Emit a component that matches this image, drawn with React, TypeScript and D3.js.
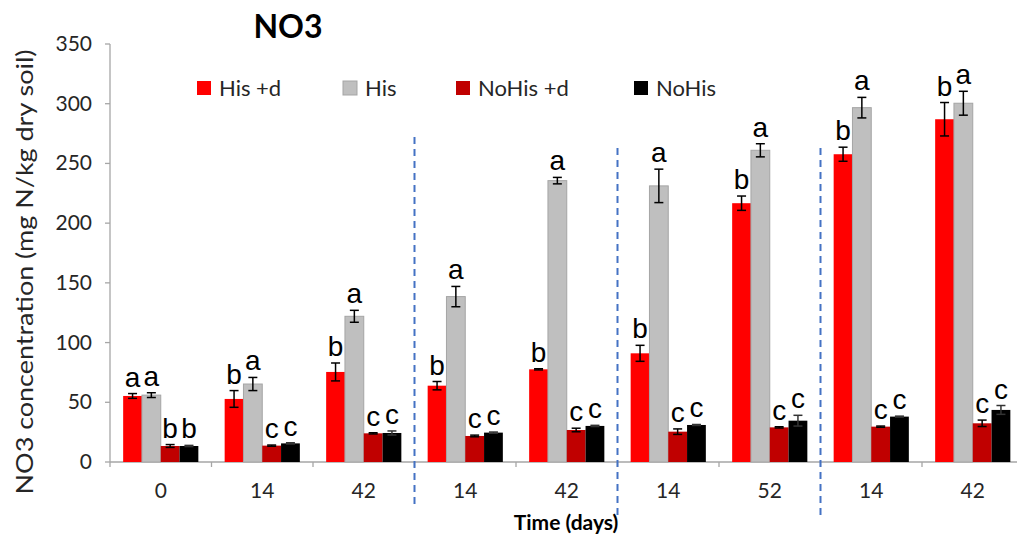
import React from "react";
import { scaleBand, scaleLinear, range } from "d3";

// time points (days) for each group, the groups are separated by dashed lines
const categories = ["0", "14", "42", "14", "42", "14", "52", "14", "42"];
const series = ["His +d", "His", "NoHis +d", "NoHis"];
const colors = ["#FF0000", "#BFBFBF", "#C00000", "#000000"];

// NO3 means (mg N/kg dry soil) and their error bars
const hisD = [55.3, 52.8, 75.4, 63.9, 77.6, 91, 216.7, 257.7, 287];
const hisDErr = [2, 7, 7.5, 3.5, 0.5, 6.7, 6, 5.9, 14];
const his = [56, 65.3, 122, 138.5, 235.6, 231.2, 261, 296.7, 300.4];
const hisErr = [2, 5.5, 5, 8.5, 2.7, 14, 5.5, 8.6, 10];
const noHisD = [13.4, 13.7, 24, 21.8, 26.8, 25.4, 29, 29.6, 32.4];
const noHisDErr = [1.2, 0.5, 0.5, 0.7, 1.5, 2.3, 0.5, 0.5, 2.7];
const noHis = [13.4, 15.6, 24.3, 24.6, 30.2, 31, 34.6, 38, 43.6];
const noHisErr = [0.5, 0.5, 1.7, 0.5, 0.5, 0.4, 4.5, 0.4, 3.7];

// significance letters
const lettersHisD = ["a", "b", "b", "b", "b", "b", "b", "b", "b"];
const lettersHis = ["a", "a", "a", "a", "a", "a", "a", "a", "a"];
const lettersNoHisD = ["b", "c", "c", "c", "c", "c", "c", "c", "c"];
const lettersNoHis = ["b", "c", "c", "c", "c", "c", "c", "c", "c"];

const yTicks = [0, 50, 100, 150, 200, 250, 300, 350];
const dividers = [3, 5, 7];

const W = 1017;
const H = 538;
const left = 110;
const bottom = 462;
const top = 44;
const catStep = 101.5;

const values = [hisD, his, noHisD, noHis];
const errors = [hisDErr, hisErr, noHisDErr, noHisErr];
const letters = [lettersHisD, lettersHis, lettersNoHisD, lettersNoHis];

const sans = "Lato, 'Noto Sans', sans-serif";
const axisColor = "#A6A6A6";
const textColor = "#262626";

function App() {
  const x0 = scaleBand<number>()
    .domain(range(categories.length))
    .range([left, left + catStep * categories.length])
    .padding(0);
  const x1 = scaleBand<string>()
    .domain(series)
    .range([0, x0.bandwidth()])
    .paddingInner(0)
    .paddingOuter(0.7);
  const y = scaleLinear().domain([0, 350]).range([bottom, top]);
  const bw = x1.bandwidth();

  const dividerTop = [137, 148, 148];
  const dividerBottom = [505, 515, 515];

  // legend layout
  const legendX = [197, 343, 456, 634];

  return (
    <svg
      width={W}
      height={H}
      style={{ position: "absolute", left: 0, top: 0, background: "#fff" }}
    >
      <rect width={W} height={H} fill="#fff" />

      {/* title */}
      <text x={288} y={38} textAnchor="middle" fontFamily={sans} fontWeight="bold" fontSize={32} fill="#000">
        NO3
      </text>

      {/* y axis */}
      <line x1={left} x2={left} y1={top} y2={bottom} stroke={axisColor} strokeWidth={1.3} />
      {yTicks.map((t) => (
        <g key={t}>
          <line x1={left - 5} x2={left} y1={y(t)} y2={y(t)} stroke={axisColor} strokeWidth={1.3} />
          <text x={92} y={y(t) + 7} textAnchor="end" fontFamily={sans} fontSize={21} fill={textColor}>
            {t}
          </text>
        </g>
      ))}
      <text
        transform={`translate(33, 272) rotate(-90)`}
        textAnchor="middle"
        fontFamily={sans}
        fontSize={24}
        fill={textColor}
        textLength={445}
        lengthAdjust="spacingAndGlyphs"
      >
        NO3 concentration (mg N/kg dry soil)
      </text>

      {/* x axis */}
      <line x1={left} x2={left + catStep * categories.length} y1={bottom} y2={bottom} stroke={axisColor} strokeWidth={1.3} />
      {range(categories.length + 1).map((i) => (
        <line
          key={i}
          x1={left + catStep * i}
          x2={left + catStep * i}
          y1={bottom}
          y2={bottom + 5}
          stroke={axisColor}
          strokeWidth={1.3}
        />
      ))}
      {categories.map((c, i) => (
        <text
          key={i}
          x={(x0(i) as number) + x0.bandwidth() / 2}
          y={498}
          textAnchor="middle"
          fontFamily={sans}
          fontSize={21}
          fill={textColor}
        >
          {c}
        </text>
      ))}
      <text x={566} y={530} textAnchor="middle" fontFamily={sans} fontWeight="bold" fontSize={21} fill="#000">
        Time (days)
      </text>

      {/* bars */}
      {series.map((s, si) =>
        categories.map((_, ci) => {
          const bx = (x0(ci) as number) + (x1(s) as number);
          const v = values[si][ci];
          return (
            <rect
              key={s + ci}
              x={bx}
              y={y(v)}
              width={bw}
              height={bottom - y(v)}
              fill={colors[si]}
              stroke={si === 1 ? "#A5A5A5" : "none"}
              strokeWidth={1}
            />
          );
        })
      )}

      {/* error bars */}
      {series.map((s, si) =>
        categories.map((_, ci) => {
          const cx = (x0(ci) as number) + (x1(s) as number) + bw / 2;
          const v = values[si][ci];
          const e = errors[si][ci];
          const color = si === 3 ? "#333" : "#000";
          return (
            <g key={"e" + s + ci} stroke={color} strokeWidth={1.5}>
              <line x1={cx} x2={cx} y1={y(v + e)} y2={y(v - e)} />
              <line x1={cx - 4.5} x2={cx + 4.5} y1={y(v + e)} y2={y(v + e)} />
              <line x1={cx - 4.5} x2={cx + 4.5} y1={y(v - e)} y2={y(v - e)} />
            </g>
          );
        })
      )}

      {/* letters */}
      {series.map((s, si) =>
        categories.map((_, ci) => {
          const cx = (x0(ci) as number) + (x1(s) as number) + bw / 2;
          const v = values[si][ci] + errors[si][ci];
          return (
            <text
              key={"l" + s + ci}
              x={cx}
              y={y(v) - 7}
              textAnchor="middle"
              fontFamily="'Liberation Sans', Arial, sans-serif"
              fontSize={28}
              fill="#000"
            >
              {letters[si][ci]}
            </text>
          );
        })
      )}

      {/* dashed dividers */}
      {dividers.map((d, i) => (
        <line
          key={d}
          x1={left + catStep * d}
          x2={left + catStep * d}
          y1={dividerTop[i]}
          y2={dividerBottom[i]}
          stroke="#4472C4"
          strokeWidth={2}
          strokeDasharray="7,5"
        />
      ))}

      {/* legend */}
      {series.map((s, si) => (
        <g key={"lg" + s}>
          <rect x={legendX[si]} y={81} width={14} height={14} fill={colors[si]} stroke={si === 1 ? "#A5A5A5" : "none"} />
          <text x={legendX[si] + 22} y={96} fontFamily={sans} fontSize={22} fill={textColor}>
            {s}
          </text>
        </g>
      ))}
    </svg>
  );
}

export default App;
